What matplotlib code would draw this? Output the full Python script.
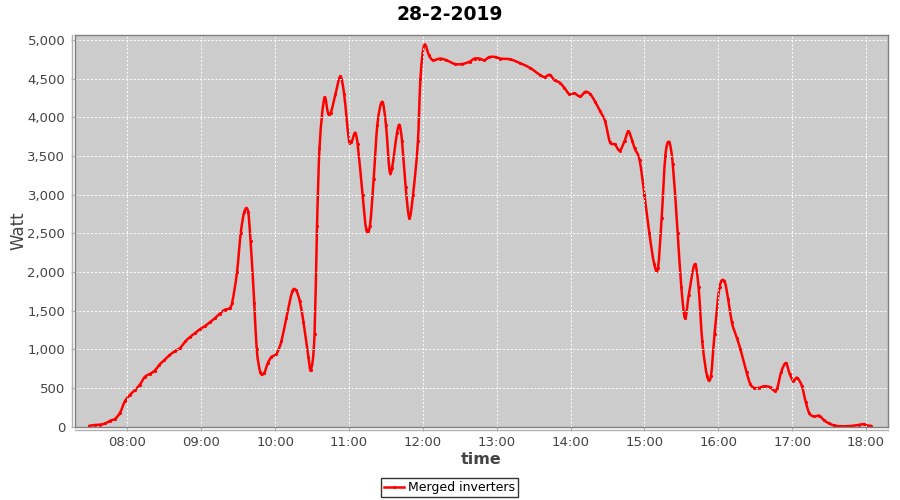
import pandas as pd
import matplotlib
matplotlib.use('Agg')
import matplotlib.pyplot as plt
import matplotlib.dates as mdates
from matplotlib.lines import Line2D
from matplotlib.path import Path
from matplotlib.patches import PathPatch

plt.rcParams['font.family'] = 'DejaVu Sans'

day = '2019-02-28'
times = ['07:29', '07:34', '07:38', '07:42', '07:46', '07:50', '07:54', '07:58', '08:02', '08:06',
         '08:10', '08:14', '08:18', '08:22', '08:26', '08:30', '08:34', '08:39', '08:43', '08:47',
         '08:51', '08:55', '08:59', '09:03', '09:07', '09:11', '09:15', '09:19', '09:23', '09:25',
         '09:29', '09:32', '09:35', '09:38', '09:40', '09:43', '09:45', '09:48', '09:51', '09:54',
         '09:57', '10:01', '10:05', '10:09', '10:14', '10:17', '10:20', '10:23', '10:27', '10:29',
         '10:32', '10:34', '10:36', '10:40', '10:43', '10:45', '10:49', '10:53', '10:56', '11:00',
         '11:02', '11:05', '11:07', '11:11', '11:14', '11:17', '11:20', '11:23', '11:27', '11:30',
         '11:33', '11:35', '11:39', '11:41', '11:43', '11:46', '11:49', '11:52', '11:56', '11:58',
         '12:01', '12:05', '12:08', '12:14', '12:19', '12:26', '12:32', '12:38', '12:42', '12:46',
         '12:50', '12:54', '12:59', '13:03', '13:11', '13:19', '13:27', '13:35', '13:39', '13:43',
         '13:47', '13:51', '13:55', '13:59', '14:03', '14:08', '14:12', '14:16', '14:20', '14:24',
         '14:28', '14:32', '14:36', '14:40', '14:44', '14:47', '14:50', '14:52', '14:56', '15:00',
         '15:04', '15:08', '15:11', '15:14', '15:17', '15:20', '15:23', '15:27', '15:30', '15:33',
         '15:36', '15:41', '15:44', '15:47', '15:51', '15:54', '15:57', '16:01', '16:05', '16:08',
         '16:11', '16:15', '16:18', '16:23', '16:26', '16:29', '16:33', '16:37', '16:42', '16:46',
         '16:48', '16:51', '16:55', '16:58', '17:01', '17:04', '17:08', '17:11', '17:14', '17:18',
         '17:22', '17:26', '17:30', '17:34', '17:38', '17:46', '17:54', '17:58', '18:02', '18:04']
watt = [10, 20, 25, 40, 75, 100, 180, 330, 410, 470,
        540, 640, 680, 720, 800, 860, 920, 980, 1020, 1100,
        1160, 1210, 1260, 1300, 1350, 1400, 1460, 1510, 1530, 1600,
        2000, 2500, 2780, 2780, 2400, 1600, 1000, 700, 690, 820,
        900, 940, 1100, 1400, 1750, 1760, 1620, 1350, 900, 730,
        1200, 2600, 3600, 4250, 4050, 4050, 4300, 4530, 4300, 3700,
        3680, 3800, 3650, 3000, 2550, 2600, 3200, 3900, 4200, 3900,
        3300, 3350, 3800, 3900, 3700, 3100, 2700, 3000, 3700, 4500,
        4930, 4800, 4740, 4760, 4740, 4690, 4690, 4720, 4760, 4760,
        4740, 4780, 4780, 4760, 4750, 4700, 4640, 4550, 4520, 4550,
        4480, 4450, 4380, 4300, 4310, 4270, 4330, 4300, 4200, 4080,
        3950, 3680, 3650, 3570, 3700, 3820, 3700, 3600, 3450, 3000,
        2500, 2100, 2050, 2700, 3500, 3680, 3400, 2500, 1800, 1400,
        1700, 2100, 1800, 1100, 650, 650, 1200, 1800, 1880, 1650,
        1350, 1150, 1000, 700, 550, 500, 500, 520, 510, 460,
        500, 700, 820, 680, 590, 630, 520, 320, 170, 130,
        140, 80, 40, 15, 5, 5, 20, 30, 10, 10]

x = pd.to_datetime([day + ' ' + t for t in times])
xn = mdates.date2num(x)


def spline_path(xs, ys):
    # smooth curve through the points (like a spline renderer), drawn as cubic beziers
    n = len(xs)
    slopes = []
    for i in range(n):
        a, b = max(i - 1, 0), min(i + 1, n - 1)
        slopes.append((ys[b] - ys[a]) / (xs[b] - xs[a]))
    verts = [(xs[0], ys[0])]
    codes = [Path.MOVETO]
    for i in range(n - 1):
        dx = (xs[i + 1] - xs[i]) / 3
        verts += [(xs[i] + dx, ys[i] + slopes[i] * dx),
                  (xs[i + 1] - dx, ys[i + 1] - slopes[i + 1] * dx),
                  (xs[i + 1], ys[i + 1])]
        codes += [Path.CURVE4] * 3
    return Path(verts, codes)


fig = plt.figure(figsize=(9, 5), dpi=100)
ax = fig.add_axes([0.0833, 0.147, 0.9034, 0.783])
ax.set_facecolor('#cccccc')
ax.add_patch(PathPatch(spline_path(xn, watt), fill=False, ec='#ff0000', lw=1.8, capstyle='round'))
ax.plot(x, watt, ls='none', color='#ff0000', marker='.', markersize=2.5)

ax.set_xlim(pd.Timestamp(day + ' 07:17:20'), pd.Timestamp(day + ' 18:17:55'))
ax.set_ylim(0, 5065)
ax.set_yticks(range(0, 5001, 500))
ax.yaxis.set_major_formatter(matplotlib.ticker.StrMethodFormatter('{x:,.0f}'))
ax.xaxis.set_major_locator(mdates.HourLocator())
ax.xaxis.set_major_formatter(mdates.DateFormatter('%H:%M'))

ax.grid(True, color='white', ls=(0, (2, 2)), lw=0.7)
for s in ax.spines.values():
    s.set_color('#808080')
    s.set_linewidth(1)
ax.tick_params(colors='#b0b0b0', labelcolor='#444444', labelsize=9.5, length=3, pad=4)

# offset axis lines like the original
ax.add_line(Line2D([-0.004, -0.004], [0, 1], transform=ax.transAxes, color='#b0b0b0', lw=1, clip_on=False))
ax.add_line(Line2D([0, 1], [-0.008, -0.008], transform=ax.transAxes, color='#b0b0b0', lw=1, clip_on=False))

ax.set_ylabel('Watt', fontsize=12, color='#444444')
ax.yaxis.set_label_coords(-0.059, 0.5)
ax.set_xlabel('time', fontsize=11.5, fontweight='bold', color='#444444')
ax.xaxis.set_label_coords(0.5, -0.064)
fig.suptitle('28-2-2019', fontsize=13.5, fontweight='bold', y=0.99)

handle = Line2D([], [], color='#ff0000', lw=1.8, marker='.', markersize=2.5)
leg = fig.legend([handle], ['Merged inverters'], loc='center', bbox_to_anchor=(0.4997, 0.025),
                 fontsize=9, frameon=True, fancybox=False, edgecolor='black', handlelength=1.6,
                 handletextpad=0.3, borderpad=0.25, borderaxespad=0)
leg.get_frame().set_linewidth(1)

fig.savefig('out.png', dpi=100)
